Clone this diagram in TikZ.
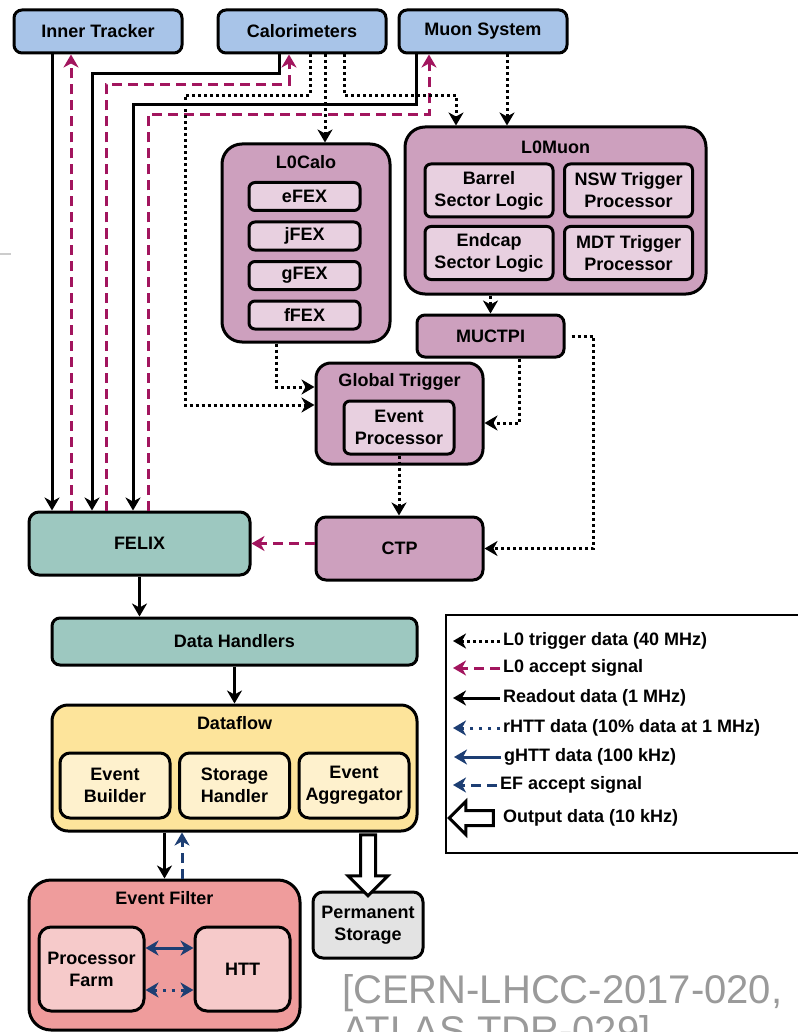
\documentclass[tikz,border=0pt]{standalone}
\usepackage{fontspec}
\setmainfont{Liberation Sans}
\usepackage{tikz}
\usetikzlibrary{calc, arrows.meta, shapes.arrows}

\definecolor{detblue}{HTML}{A8C4E8}
\definecolor{trigpink}{HTML}{CDA0BE}
\definecolor{subpink}{HTML}{E8D0E0}
\definecolor{felixgreen}{HTML}{9DC8C0}
\definecolor{dfyellow}{HTML}{FDE49B}
\definecolor{subyellow}{HTML}{FEF1CD}
\definecolor{efred}{HTML}{EF9C9C}
\definecolor{subred}{HTML}{F6CACA}
\definecolor{storgray}{HTML}{E3E3E3}
\definecolor{acceptred}{HTML}{A2155E}
\definecolor{httblue}{HTML}{1D3E73}
\definecolor{citegray}{HTML}{9A9A9A}

\tikzstyle{box}=[draw, line width=3pt, align=center, inner sep=0pt, rounded corners=8pt, font=\fontsize{18}{22}\selectfont\bfseries]
\tikzstyle{title}=[inner sep=0pt, font=\fontsize{18}{22}\selectfont\bfseries]
\tikzstyle{det}=[box, fill=detblue, minimum width=168pt, minimum height=43pt]
\tikzstyle{trig}=[box, fill=trigpink]
\tikzstyle{trigsub}=[box, fill=subpink, rounded corners=6pt]
\tikzstyle{fex}=[trigsub, minimum width=111pt, minimum height=28pt]
\tikzstyle{mu}=[trigsub, minimum width=128pt, minimum height=53pt]
\tikzstyle{daq}=[box, fill=felixgreen]
\tikzstyle{df}=[box, fill=subyellow, rounded corners=10pt, minimum width=110pt, minimum height=65pt]
\tikzstyle{efsub}=[box, fill=subred, rounded corners=12pt, minimum height=84pt]
\tikzstyle{hollow}=[draw, line width=3pt, fill=white, single arrow, inner xsep=0pt, inner ysep=6pt, single arrow head indent=0pt]
\tikzstyle{key}=[anchor=west, inner sep=0pt, font=\fontsize{18}{22}\selectfont\bfseries]
% connector types
\tikzstyle{trigdata}=[line width=3pt, dash pattern=on 3pt off 3pt]
\tikzstyle{accept}=[line width=3pt, acceptred, dash pattern=on 10pt off 6pt]
\tikzstyle{readout}=[line width=3pt]
\tikzstyle{rhtt}=[line width=3pt, httblue, dash pattern=on 3pt off 6pt]
\tikzstyle{ghtt}=[line width=3pt, httblue]
\tikzstyle{efaccept}=[line width=3pt, httblue, dash pattern=on 10pt off 6pt]

\begin{document}
\begin{tikzpicture}[x=1pt,y=-1pt,>={Stealth[length=13pt,width=15pt,inset=4pt]}]
  \useasboundingbox[fill=white] (0,0) rectangle (797,1032);
  \draw [line width=1.5pt, black!20] (0,254) -- (11,254);

  % detectors
  \node [det] (it) at (98,31.5) {Inner Tracker};
  \node [det] (calo) at (302,31.5) {Calorimeters};
  \node [det] (muon) at (483,31.5) {Muon System};

  % L0 calo trigger
  \node [trig, rounded corners=20pt, minimum width=168pt, minimum height=198pt] (l0calo) at (306,243) {};
  \node [title] (l0calo-t) at (306,162) {L0Calo};
  \node [fex] (efex) at (304.5,196.5) {eFEX};
  \node [fex, below of=efex, node distance=39.5pt] (jfex) {jFEX};
  \node [fex, below of=jfex, node distance=39.5pt] (gfex) {gFEX};
  \node [fex, below of=gfex, node distance=39.5pt] (ffex) {fFEX};

  % L0 muon trigger
  \node [trig, rounded corners=20pt, minimum width=301pt, minimum height=167pt] (l0muon) at (555.5,210.5) {};
  \node [title] (l0muon-t) at (555.5,147) {L0Muon};
  \node [mu] (barrel) at (489,190.5) {Barrel\\Sector Logic};
  \node [mu, right of=barrel, node distance=139.5pt] (nsw) {NSW Trigger\\Processor};
  \node [mu, below of=barrel, node distance=62.5pt] (endcap) {Endcap\\Sector Logic};
  \node [mu, right of=endcap, node distance=139.5pt] (mdt) {MDT Trigger\\Processor};
  \node [trig, minimum width=147pt, minimum height=42pt] (muctpi) at (490.5,336) {MUCTPI};

  % global trigger and CTP
  \node [trig, rounded corners=15pt, minimum width=167pt, minimum height=101pt] (global) at (399.5,413.5) {};
  \node [title] (global-t) at (399.5,382) {Global Trigger};
  \node [trigsub, minimum width=110pt, minimum height=53pt] (evtproc) at (399,427.5) {Event\\Processor};
  \node [trig, rounded corners=10pt, minimum width=167pt, minimum height=63pt] (ctp) at (399.5,548.5) {CTP};

  % readout
  \node [daq, rounded corners=10pt, minimum width=221pt, minimum height=63pt] (felix) at (139.5,543.5) {FELIX};
  \node [daq, minimum width=365pt, minimum height=47pt] (dh) at (234.5,641.5) {Data Handlers};
  \node [box, fill=dfyellow, rounded corners=16pt, minimum width=365pt, minimum height=126pt] (dataflow) at (234.5,768) {};
  \node [title] (dataflow-t) at (234.5,723) {Dataflow};
  \node [df] (evb) at (115,785.5) {Event\\Builder};
  \node [df, right of=evb, node distance=119.5pt] (sth) {Storage\\Handler};
  \node [df, right of=sth, node distance=119.5pt] (eva) {Event\\Aggregator};

  % event filter
  \node [box, fill=efred, rounded corners=22pt, minimum width=271pt, minimum height=150pt] (ef) at (164.5,955) {};
  \node [title] (ef-t) at (164.5,898) {Event Filter};
  \node [efsub, minimum width=105pt] (farm) at (91.5,969) {Processor\\Farm};
  \node [efsub, minimum width=95pt] (htt) at (242.5,969) {HTT};
  \node [box, fill=storgray, rounded corners=10pt, minimum width=110pt, minimum height=66pt] (perm) at (368,925) {Permanent\\Storage};

  % readout data and L0 accept to/from FELIX
  \draw [readout,->] ([xshift=-46pt]it.south) -- ([xshift=-46pt]it.south |- felix.north);
  \draw [accept,->] ([xshift=-27pt]it.south |- felix.north) -- ([xshift=-27pt]it.south);
  \draw [readout,->] ([xshift=-23pt]calo.south) -- ++(0,19) -| ([xshift=-47.5pt]felix.north);
  \draw [accept,->] ([xshift=-33.5pt]felix.north) |- ($([xshift=-13pt]calo.south)+(0,30)$) -- ([xshift=-13pt]calo.south);
  \draw [readout,->] ([xshift=-67pt]muon.south) -- ++(0,50) -| ([xshift=-6.5pt]felix.north);
  \draw [accept,->] ([xshift=8.5pt]felix.north) |- ($([xshift=-54pt]muon.south)+(0,60)$) -- ([xshift=-54pt]muon.south);

  % L0 trigger data
  \draw [trigdata,->] ([xshift=8pt]calo.south) -- ++(0,41) -- ++(-125,0) |- ([yshift=8.5pt]global.west);
  \draw [trigdata,->] ([xshift=23pt]calo.south) -- ([xshift=23pt]calo.south |- l0calo.north);
  \draw [trigdata,->] ([xshift=42pt]calo.south) -- ++(0,41) -| ([xshift=-99.5pt]l0muon.north);
  \draw [trigdata,->] ([xshift=24pt]muon.south) -- ([xshift=24pt]muon.south |- l0muon.north);
  \draw [trigdata,->] ([xshift=-30pt]l0calo.south) |- ([yshift=26.5pt]global.west);
  \draw [trigdata,->] (muctpi.north |- l0muon.south) -- (muctpi.north);
  \draw [trigdata,->] ([xshift=28.5pt]muctpi.south) |- ([yshift=-9.5pt]global.east);
  \draw [trigdata,->] ([xshift=6pt]muctpi.east) -- ++(22,0) |- (ctp.east);
  \draw [trigdata,->] (evtproc.south) -- (evtproc.south |- ctp.north);
  \draw [accept,->] (felix.east -| ctp.west) -- (felix.east);

  % dataflow
  \draw [readout,->] (felix.south) -- (felix.south |- dh.north);
  \draw [readout,->] (dh.south) -- (dataflow.north);
  \draw [readout,->] (ef.north |- dataflow.south) -- (ef.north);
  \draw [efaccept,->] ([xshift=17.5pt]ef.north) -- ([xshift=17.5pt]ef.north |- dataflow.south);
  \node [hollow, rotate=-90, minimum height=61pt, single arrow head extend=12.5pt] (out) at (368,861.5) {};
  \draw [ghtt,<->] ([yshift=21pt]farm.east) -- ([yshift=21pt]farm.east -| htt.west);
  \draw [rhtt,<->] ([yshift=-21pt]farm.east) -- ([yshift=-21pt]farm.east -| htt.west);

  % legend
  \node [draw, line width=1.5pt, minimum width=359pt, minimum height=238pt] (legend) at (625.5,734) {};
  \node [key] (k1) at (503,641) {L0 trigger data (40 MHz)};
  \node [key] (k2) at (503,668) {L0 accept signal};
  \node [key] (k3) at (503,698) {Readout data (1 MHz)};
  \node [key] (k4) at (503,728) {rHTT data (10\% data at 1 MHz)};
  \node [key] (k5) at (504,757) {gHTT data (100 kHz)};
  \node [key] (k6) at (500,785) {EF accept signal};
  \node [key] (k7) at (503,818) {Output data (10 kHz)};
  \draw [trigdata,->] ([xshift=-3pt]k1.west) -- ++(-47,0);
  \draw [accept,->] ([xshift=-3pt]k2.west) -- ++(-47,0);
  \draw [readout,->] ([xshift=-3pt]k3.west) -- ++(-47,0);
  \draw [rhtt,->] ([xshift=-3pt]k4.west) -- ++(-47,0);
  \draw [ghtt,->] ([xshift=-3pt]k5.west) -- ++(-47,0);
  \draw [efaccept,->] ([xshift=-3pt]k6.west) -- ++(-44,0);
  \node [hollow, rotate=180, minimum height=44pt, single arrow head extend=9pt] (k7a) at (475,818) {};

  \node [anchor=north west, align=left, inner sep=0pt, text=citegray, font=\fontsize{40}{41}\selectfont] (ref) at (342,974) {[CERN-LHCC-2017-020,\\ATLAS TDR-029]};
\end{tikzpicture}
\end{document}
